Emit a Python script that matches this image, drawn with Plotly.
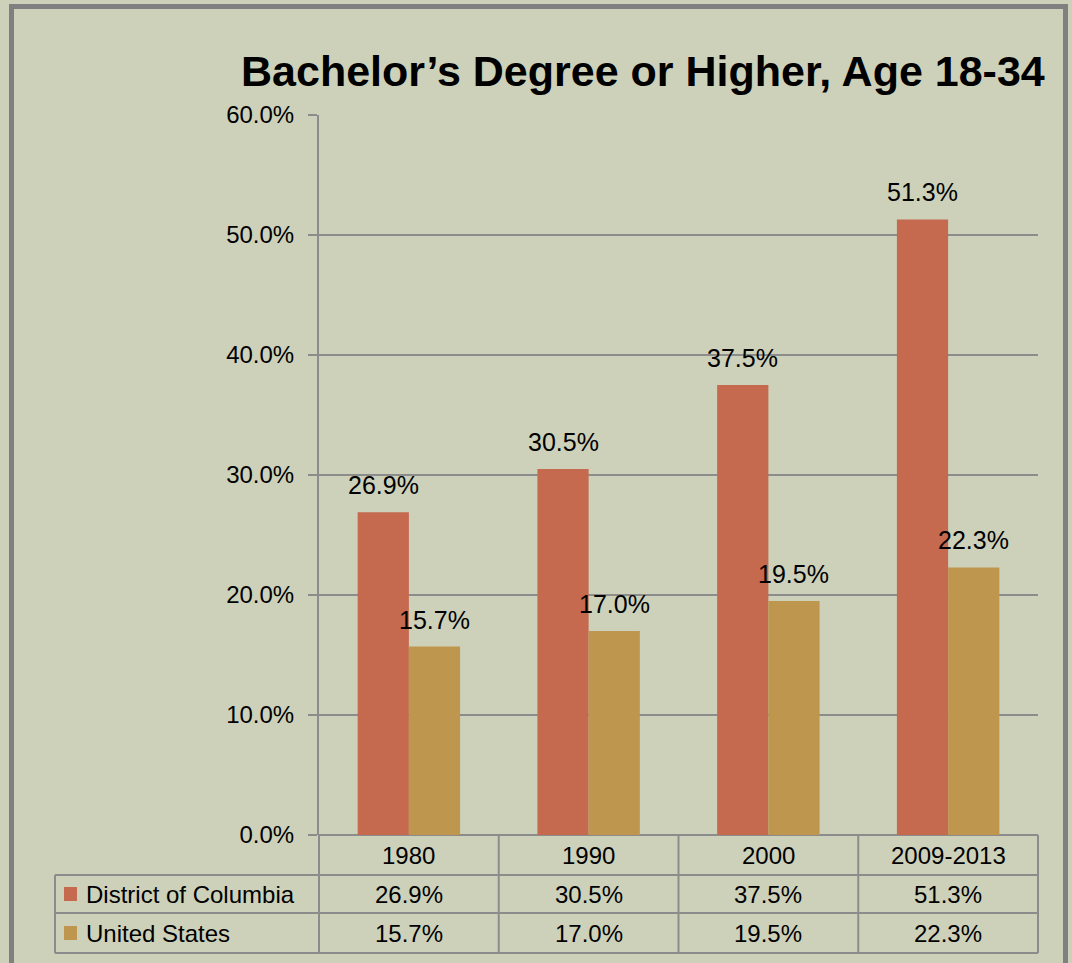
import plotly.graph_objects as go

categories = ["1980", "1990", "2000", "2009-2013"]
dc_values = [26.9, 30.5, 37.5, 51.3]
us_values = [15.7, 17.0, 19.5, 22.3]
series_names = ["District of Columbia", "United States"]
title_text = "Bachelor\u2019s Degree or Higher, Age 18-34"
y_ticks = [0, 10, 20, 30, 40, 50, 60]

BG = "#CDD1BA"
DC_COLOR = "#C5694F"
US_COLOR = "#BE964D"
GRID = "#8C8C8C"
FONT = "Liberation Sans, Arial, sans-serif"

W, H = 1072, 963
L, R, T, B = 319, 1038, 115, 835


def px(xp):
    return (xp - L) / (R - L)


def py(yp):
    return (B - yp) / (B - T)


fig = go.Figure()
fig.add_trace(go.Bar(x=categories, y=dc_values, name=series_names[0],
                     marker=dict(color=DC_COLOR, line=dict(width=0))))
fig.add_trace(go.Bar(x=categories, y=us_values, name=series_names[1],
                     marker=dict(color=US_COLOR, line=dict(width=0))))

annotations = []
bar_w_px = (R - L) / len(categories) * (1 - 0.43) / 2
for vals, sh in ((dc_values, -bar_w_px / 2), (us_values, bar_w_px / 2)):
    for i, v in enumerate(vals):
        annotations.append(dict(x=i, y=v, xref="x", yref="y", text=f"{v:.1f}%",
                                showarrow=False, xshift=sh, yshift=11, yanchor="bottom",
                                font=dict(family=FONT, size=25, color="black")))

# title
annotations.append(dict(x=px(643), y=py(71), xref="paper", yref="paper", text=f"<b>{title_text}</b>",
                        showarrow=False, xanchor="center", yanchor="middle",
                        font=dict(family=FONT, size=43, color="black")))

# data table text
for i, c in enumerate(categories):
    annotations.append(dict(x=i, y=py(856), xref="x", yref="paper", text=c, showarrow=False,
                            yanchor="middle", font=dict(family=FONT, size=24, color="black")))
for row_y, vals in ((894, dc_values), (933, us_values)):
    for i, v in enumerate(vals):
        annotations.append(dict(x=i, y=py(row_y), xref="x", yref="paper", text=f"{v:.1f}%",
                                showarrow=False, yanchor="middle",
                                font=dict(family=FONT, size=24, color="black")))
for row_y, name in ((894, series_names[0]), (933, series_names[1])):
    annotations.append(dict(x=px(84), y=py(row_y), xref="paper", yref="paper", text=name,
                            showarrow=False, xanchor="left", yanchor="middle",
                            font=dict(family=FONT, size=24, color="black")))

shapes = []
line = dict(color=GRID, width=2)
# table horizontal lines
for yy in (875, 913, 953):
    shapes.append(dict(type="line", xref="paper", yref="paper", x0=px(55), x1=px(R),
                       y0=py(yy), y1=py(yy), line=line))
# table vertical lines
for i in range(len(categories) + 1):
    xx = L + i * (R - L) / len(categories)
    shapes.append(dict(type="line", xref="paper", yref="paper", x0=px(xx), x1=px(xx),
                       y0=py(B), y1=py(953), line=line))
shapes.append(dict(type="line", xref="paper", yref="paper", x0=px(55), x1=px(55),
                   y0=py(875), y1=py(953), line=line))
# legend keys
for yy, col in ((894, DC_COLOR), (933, US_COLOR)):
    shapes.append(dict(type="rect", xref="paper", yref="paper", x0=px(64), x1=px(77),
                       y0=py(yy - 7), y1=py(yy + 7), fillcolor=col, line=dict(width=0)))
# outer frame
shapes.append(dict(type="rect", xref="paper", yref="paper", x0=px(11.5), x1=px(1065.5),
                   y0=py(6.5), y1=py(1000), line=dict(color="#808080", width=5),
                   fillcolor="rgba(0,0,0,0)"))

fig.update_layout(
    width=W, height=H,
    margin=dict(l=L, r=W - R, t=T, b=H - B, pad=0),
    paper_bgcolor=BG, plot_bgcolor=BG,
    barmode="group", bargap=0.43, bargroupgap=0,
    showlegend=False,
    annotations=annotations, shapes=shapes,
    font=dict(family=FONT, color="black"),
    xaxis=dict(type="category", categoryorder="array", categoryarray=categories,
               range=[-0.5, len(categories) - 0.5], autorange=False,
               showticklabels=False, showgrid=False, zeroline=False, showline=False, ticks=""),
    yaxis=dict(range=[0, 60], autorange=False, tickvals=y_ticks, ticktext=[f"{v:.1f}%" for v in y_ticks],
               showgrid=True, gridcolor=GRID, gridwidth=2,
               zeroline=True, zerolinecolor=GRID, zerolinewidth=2,
               showline=True, linecolor=GRID, linewidth=2,
               ticks="outside", ticklen=9, tickcolor=GRID, tickwidth=2,
               ticklabelstandoff=9,
               tickfont=dict(family=FONT, size=24, color="black")),
)

fig.write_html("out.html", config={"responsive": False, "displayModeBar": False},
               post_script="document.body.style.margin='0';document.body.style.background='" + BG + "';")
